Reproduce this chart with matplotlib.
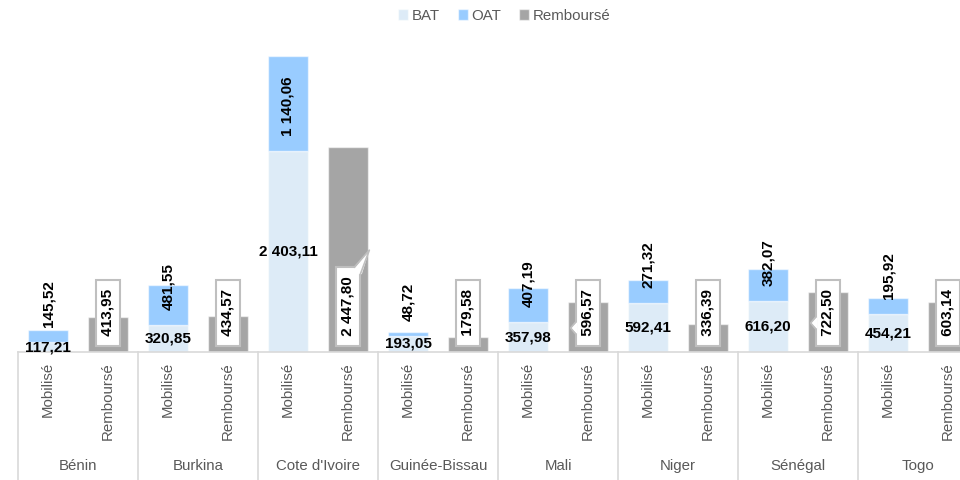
import matplotlib
matplotlib.use('Agg')
import matplotlib.pyplot as plt
from matplotlib.patches import Polygon
from matplotlib.lines import Line2D
from matplotlib.transforms import IdentityTransform
import numpy as np

plt.rcParams['font.family'] = ['Liberation Sans', 'DejaVu Sans']

# data
countries = ['Bénin', 'Burkina', "Cote d'Ivoire", 'Guinée-Bissau', 'Mali', 'Niger', 'Sénégal', 'Togo']
bat = [117.21, 320.85, 2403.11, 193.05, 357.98, 592.41, 616.20, 454.21]
oat = [145.52, 481.55, 1140.06, 48.72, 407.19, 271.32, 382.07, 195.92]
rembourse = [413.95, 434.57, 2447.80, 179.58, 596.57, 336.39, 722.50, 603.14]
sub_labels = ['Mobilisé', 'Remboursé']
legend_labels = ['BAT', 'OAT', 'Remboursé']

COL_BAT = '#DDEBF7'
COL_OAT = '#99CCFF'
COL_REMB = '#A5A5A5'
COL_AXIS = '#D9D9D9'
COL_TEXT = '#595959'
COL_BOX = '#BFBFBF'
EDGE = (1, 1, 1, 0.55)


def fr(v):
    return f"{v:,.2f}".replace(',', ' ').replace('.', ',')


fig = plt.figure(figsize=(9.6, 4.8), dpi=100)
ax = fig.add_axes([18 / 960, 128 / 480, 1.0, 313.3 / 480])
ax.set_xlim(-0.5, 15.5)
ax.set_ylim(0, 3750)
ax.set_axis_off()

n = len(countries)
x_mob = np.arange(n) * 2
x_rem = x_mob + 1
w = 40 / 60

b1 = ax.bar(x_mob, bat, width=w, color=COL_BAT, edgecolor=EDGE, linewidth=1, label=legend_labels[0])
b2 = ax.bar(x_mob, oat, bottom=bat, width=w, color=COL_OAT, edgecolor=EDGE, linewidth=1, label=legend_labels[1])
b3 = ax.bar(x_rem, rembourse, width=w, color=COL_REMB, edgecolor=EDGE, linewidth=1, label=legend_labels[2])

# baseline + category separators
ax.plot([-0.5, 15.5], [0, 0], color=COL_AXIS, lw=1.2, clip_on=False, zorder=1)
for i in range(n + 1):
    ax.plot([2 * i - 0.5] * 2, [0, -0.6], color=COL_AXIS, lw=1.2,
            transform=ax.get_xaxis_transform(), clip_on=False)

# category labels
for i in range(n):
    for j, xx in enumerate([x_mob[i], x_rem[i]]):
        ax.annotate(sub_labels[j], xy=(xx, 0), xycoords=('data', 'axes fraction'),
                    xytext=(0, -10), textcoords='offset pixels', rotation=90,
                    ha='center', va='top', fontsize=10.8, color=COL_TEXT)
    ax.annotate(countries[i], xy=(x_mob[i] + 0.5, 0), xycoords=('data', 'axes fraction'),
                xytext=(0, -114), textcoords='offset pixels',
                ha='center', va='center', fontsize=10.8, color=COL_TEXT)

# value labels
rem_texts = []
for i in range(n):
    ax.text(x_mob[i], bat[i] / 2, fr(bat[i]), ha='center', va='center',
            fontsize=11, fontweight='bold', color='black', zorder=5)
    ax.annotate(fr(oat[i]), xy=(x_mob[i], bat[i]), xytext=(0, 15),
                textcoords='offset pixels', rotation=90, ha='center', va='bottom',
                fontsize=11, fontweight='bold', color='black', zorder=5)
    t = ax.annotate(' ' + fr(rembourse[i]) + ' ', xy=(x_rem[i], 0), xytext=(0, 11.5),
                    textcoords='offset pixels', rotation=90, ha='center', va='bottom',
                    fontsize=11, fontweight='bold', color='black', zorder=6,
                    bbox=dict(boxstyle='square,pad=0.35', fc='white', ec=COL_BOX, lw=1.5))
    rem_texts.append(t)

leg = fig.legend(handles=[b1, b2, b3], loc='center', bbox_to_anchor=(0.525, 0.967),
                 ncol=3, frameon=False, fontsize=10.8, handlelength=0.7, handleheight=0.7,
                 handletextpad=0.2, columnspacing=1.2, labelcolor=COL_TEXT)

# callout pointers on a few Remboursé labels (pixel geometry from box edges)
fig.canvas.draw()
renderer = fig.canvas.get_renderer()


def pointer(pts, open_pts):
    fig.add_artist(Polygon(pts, closed=True, fc='white', ec='none',
                           transform=IdentityTransform(), zorder=10))
    xs, ys = zip(*open_pts)
    fig.add_artist(Line2D(xs, ys, color=COL_BOX, lw=1.2,
                          transform=IdentityTransform(), zorder=11))


# left-side notch (Mali, Sénégal)
for i, yc in [(4, 152), (6, 157)]:
    bb = rem_texts[i].get_bbox_patch().get_window_extent(renderer)
    L = bb.x0
    pts = [(L + 1.5, yc + 6), (L - 5, yc), (L + 1.5, yc - 6)]
    pointer(pts, [(L, yc + 6), (L - 5, yc), (L, yc - 6)])

# thin wedge up-right (Cote d'Ivoire)
bb = rem_texts[2].get_bbox_patch().get_window_extent(renderer)
R, T = bb.x1, bb.y1
tip = (R + 9, T + 17)
pts = [(R - 6, T - 1.5), tip, (R + 1.5, T - 7), (R - 6, T - 7)]
pointer(pts, [(R - 6, T), tip, (R, T - 7)])

fig.savefig('out.png', dpi=100, facecolor='white')
